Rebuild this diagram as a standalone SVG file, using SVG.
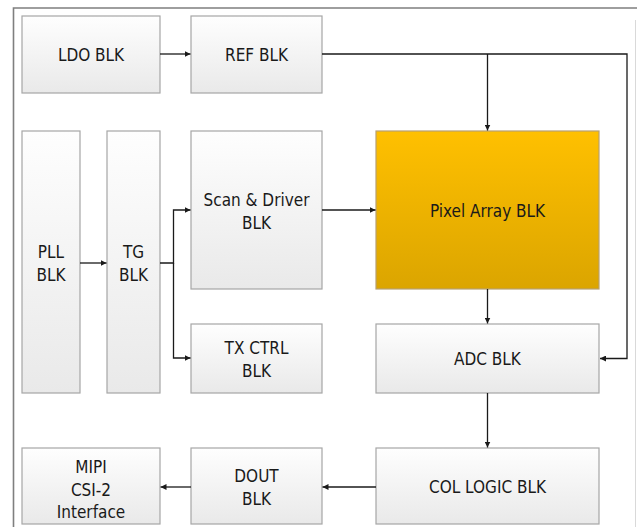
<svg xmlns="http://www.w3.org/2000/svg" width="637" height="527" viewBox="0 0 637 527">
  <defs>
    <linearGradient id="gBox" x1="0" y1="0" x2="0" y2="1">
      <stop offset="0" stop-color="#fefefe"/>
      <stop offset="1" stop-color="#e9e9e9"/>
    </linearGradient>
    <linearGradient id="gPix" x1="0" y1="0" x2="0" y2="1">
      <stop offset="0" stop-color="#ffc000"/>
      <stop offset="1" stop-color="#dba500"/>
    </linearGradient>
    <marker id="arr" viewBox="0 0 8 8" refX="8" refY="4" markerWidth="6" markerHeight="6" markerUnits="userSpaceOnUse" orient="auto">
      <path d="M0,0 L8,4 L0,8 z" fill="#1a1a1a"/>
    </marker>
  </defs>
  <style>
    .box { fill: url(#gBox); stroke: #a6a6a6; stroke-width: 1.2; }
    .pix { fill: url(#gPix); stroke: #b8a070; stroke-width: 1.2; }
    .t { font-family: "DejaVu Sans Condensed", "DejaVu Sans", sans-serif; font-stretch: condensed; font-size: 17px; fill: #1a1a1a; text-anchor: middle; }
    .c { fill: none; stroke: #1a1a1a; stroke-width: 1.3; }
  </style>
  <rect x="0" y="0" width="637" height="527" fill="#ffffff"/>
  <!-- frame -->
  <path d="M13.5,527 V8 H637" fill="none" stroke="#7f7f7f" stroke-width="1.6"/>
  <line x1="635.5" y1="20" x2="635.5" y2="527" stroke="#d9d9d9" stroke-width="1"/>

  <g id="ldo"><rect class="box" x="22" y="16" width="138" height="77"/><text class="t" x="91" y="61">LDO BLK</text></g>
  <g id="ref"><rect class="box" x="191" y="16" width="131" height="77"/><text class="t" x="256.5" y="61">REF BLK</text></g>
  <g id="pll"><rect class="box" x="22" y="131" width="58" height="262"/><text class="t" x="51" y="258">PLL</text><text class="t" x="51" y="281">BLK</text></g>
  <g id="tg"><rect class="box" x="107" y="131" width="53" height="262"/><text class="t" x="133.5" y="258">TG</text><text class="t" x="133.5" y="281">BLK</text></g>
  <g id="scan"><rect class="box" x="191" y="131" width="131" height="158"/><text class="t" x="256.5" y="206">Scan &amp; Driver</text><text class="t" x="256.5" y="229">BLK</text></g>
  <g id="txctrl"><rect class="box" x="191" y="324" width="131" height="69"/><text class="t" x="256.5" y="354">TX CTRL</text><text class="t" x="256.5" y="377">BLK</text></g>
  <g id="pixel"><rect class="pix" x="376" y="131" width="223" height="158"/><text class="t" x="487.5" y="217">Pixel Array BLK</text></g>
  <g id="adc"><rect class="box" x="376" y="324" width="223" height="69"/><text class="t" x="487.5" y="365">ADC BLK</text></g>
  <g id="mipi"><rect class="box" x="22" y="448" width="138" height="76"/><text class="t" x="91" y="473">MIPI</text><text class="t" x="91" y="496">CSI-2</text><text class="t" x="91" y="518">Interface</text></g>
  <g id="dout"><rect class="box" x="191" y="448" width="131" height="76"/><text class="t" x="256.5" y="482">DOUT</text><text class="t" x="256.5" y="505">BLK</text></g>
  <g id="col"><rect class="box" x="376" y="448" width="223" height="76"/><text class="t" x="487.5" y="493">COL LOGIC BLK</text></g>

  <g id="connectors">
    <path class="c" d="M160,54 H190.5" marker-end="url(#arr)"/>
    <path class="c" d="M322,54 H627 V358.5 H600" marker-end="url(#arr)"/>
    <path class="c" d="M487.5,54 V130.5" marker-end="url(#arr)"/>
    <path class="c" d="M80,263 H106.5" marker-end="url(#arr)"/>
    <path class="c" d="M160,263 H173.5 V210 H190.5" marker-end="url(#arr)"/>
    <path class="c" d="M173.5,263 V358 H190.5" marker-end="url(#arr)"/>
    <path class="c" d="M322,210 H375.5" marker-end="url(#arr)"/>
    <path class="c" d="M487.5,289 V323.5" marker-end="url(#arr)"/>
    <path class="c" d="M487.5,393 V447.5" marker-end="url(#arr)"/>
    <path class="c" d="M376,487 H322.5" marker-end="url(#arr)"/>
    <path class="c" d="M191,487 H160.5" marker-end="url(#arr)"/>
  </g>
</svg>
